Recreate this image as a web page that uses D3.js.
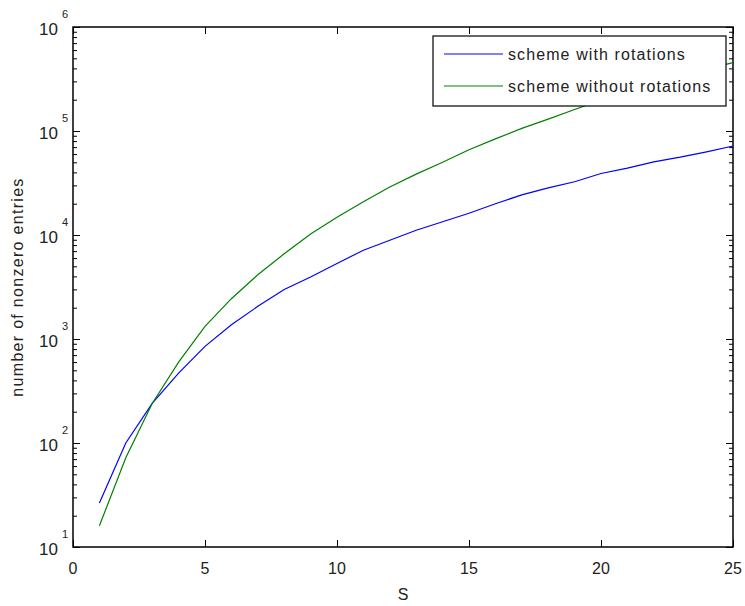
<!DOCTYPE html>
<html>
<head>
<meta charset="utf-8">
<script src="https://cdn.jsdelivr.net/npm/d3@7"></script>
<style>
  body { margin: 0; background: #fff; }
  text { font-family: "Liberation Sans", Arial, sans-serif; fill: #222; }
</style>
</head>
<body>
<div class="chart"></div>
<script>
const sValues = [1, 2, 3, 4, 5, 6, 7, 8, 9, 10, 11, 12, 13, 14, 15, 16, 17, 18, 19, 20, 21, 22, 23, 24, 25];
const withRotations = [26.5, 100, 240, 470, 850, 1370, 2060, 2990, 3950, 5320, 7140, 8900, 11100, 13400, 16200, 20000, 24300, 28400, 32500, 39000, 44000, 50500, 56000, 63000, 71700];
const withoutRotations = [16, 72, 240, 600, 1320, 2440, 4150, 6600, 10200, 14800, 20900, 29000, 38500, 50000, 66000, 84000, 106000, 130000, 161000, 198000, 240000, 285000, 339000, 394000, 454000];
const xTicks = [0, 5, 10, 15, 20, 25];
const yExponents = [1, 2, 3, 4, 5, 6];
const seriesNames = ["scheme with rotations", "scheme without rotations"];
const seriesColors = ["#0000ff", "#008000"];

const svgWidth = 745;
const svgHeight = 606;
const plotLeft = 73, plotRight = 733, plotTop = 27, plotBottom = 547;

let svg = d3.select(".chart")
    .append("svg")
    .attr("width", svgWidth)
    .attr("height", svgHeight)

let x = d3.scaleLinear().domain([0, 25]).range([plotLeft, plotRight])
let y = d3.scaleLog().domain([10, 1e6]).range([plotBottom, plotTop])

// minor ticks 2..9 for each decade
let minor = []
yExponents.slice(0, -1).forEach(e => {
    for (let k = 2; k <= 9; k++) minor.push(k * Math.pow(10, e))
})
const major = yExponents.map(e => Math.pow(10, e))

function drawTicks(axis, tr) {
    let g = svg.append("g").attr("transform", tr).call(axis)
    g.select(".domain").remove()
    g.selectAll("text").remove()
    g.selectAll("line").attr("stroke", "#000").attr("stroke-width", 1)
}

drawTicks(d3.axisBottom(x).tickValues(xTicks).tickSize(-7), `translate(0,${plotBottom})`)
drawTicks(d3.axisTop(x).tickValues(xTicks).tickSize(-7), `translate(0,${plotTop})`)
drawTicks(d3.axisLeft(y).tickValues(major).tickSize(-7), `translate(${plotLeft},0)`)
drawTicks(d3.axisRight(y).tickValues(major).tickSize(-7), `translate(${plotRight},0)`)
drawTicks(d3.axisLeft(y).tickValues(minor).tickSize(-4), `translate(${plotLeft},0)`)
drawTicks(d3.axisRight(y).tickValues(minor).tickSize(-4), `translate(${plotRight},0)`)

// box
svg.append("rect")
    .attr("x", plotLeft).attr("y", plotTop)
    .attr("width", plotRight - plotLeft).attr("height", plotBottom - plotTop)
    .attr("fill", "none").attr("stroke", "#000").attr("stroke-width", 1.5)

// x labels
svg.selectAll(".xlab").data(xTicks).enter().append("text")
    .attr("x", d => x(d)).attr("y", plotBottom + 27)
    .attr("text-anchor", "middle").style("font-size", "16px")
    .text(d => d)

// y labels 10^n
yExponents.forEach(e => {
    svg.append("text")
        .attr("x", 58).attr("y", y(Math.pow(10, e)) + 8)
        .attr("text-anchor", "end").style("font-size", "17px")
        .text("10")
    svg.append("text")
        .attr("x", 62).attr("y", y(Math.pow(10, e)) - 9)
        .style("font-size", "11px")
        .text(e)
})

svg.append("text")
    .attr("x", x(12.5)).attr("y", 600)
    .attr("text-anchor", "middle").style("font-size", "16px")
    .text("S")

svg.append("text")
    .attr("transform", `translate(23, ${(plotTop + plotBottom) / 2}) rotate(-90)`)
    .attr("text-anchor", "middle").style("font-size", "16px")
    .style("letter-spacing", "1.3px")
    .text("number of nonzero entries")

let line = d3.line().x((d, i) => x(sValues[i])).y(d => y(d))

;[withRotations, withoutRotations].forEach((series, i) => {
    svg.append("path")
        .attr("d", line(series))
        .attr("fill", "none")
        .attr("stroke", seriesColors[i])
        .attr("stroke-width", 1.2)
})

// legend
let legend = svg.append("g")
legend.append("rect")
    .attr("x", 433).attr("y", 36).attr("width", 293).attr("height", 70)
    .attr("fill", "#fff").attr("stroke", "#000").attr("stroke-width", 1.2)
seriesNames.forEach((name, i) => {
    let ly = 54 + i * 32
    legend.append("line")
        .attr("x1", 444).attr("x2", 503).attr("y1", ly).attr("y2", ly)
        .attr("stroke", seriesColors[i]).attr("stroke-width", 1.2)
    legend.append("text")
        .attr("x", 508).attr("y", ly + 6)
        .style("font-size", "16px")
        .style("letter-spacing", "1.1px")
        .text(name)
})
</script>
</body>
</html>
